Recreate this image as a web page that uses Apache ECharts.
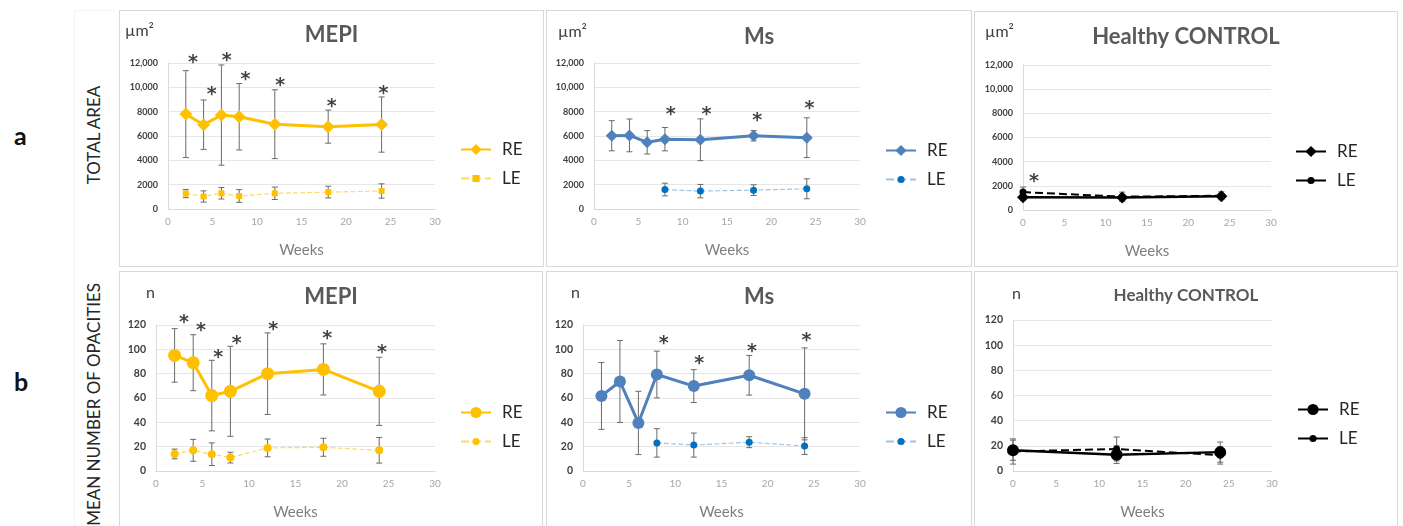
<!DOCTYPE html>
<html>
<head>
<meta charset="utf-8">
<script src="https://cdn.jsdelivr.net/npm/echarts@6.0.0/dist/echarts.min.js"></script>
<style>
  body { margin: 0; background: #fff; }
  #page { position: relative; width: 1403px; height: 526px; overflow: hidden; font-family: Lato, "Open Sans", sans-serif; }
  .panel { position: absolute; box-sizing: border-box; border: 1px solid #d9d9d9; }
  .outer { position: absolute; left: 74px; top: 10px; width: 40px; height: 520px; border-left: 1px solid #f4f4f4; border-top: 1px solid #f4f4f4; }
  .letter { position: absolute; left: 14px; font-size: 25px; font-weight: bold; color: #111; }
  .side { position: absolute; height: 20px; line-height: 20px; font-size: 17px; color: #262626; white-space: nowrap; transform: rotate(-90deg); transform-origin: 0 0; }
</style>
</head>
<body>
<div id="page">
  <div class="outer"></div>
  <div class="letter" style="top:120px">a</div>
  <div class="letter" style="top:366px">b</div>
  <div class="side" style="left:84px; top:235px; width:200px; text-align:center">TOTAL AREA</div>
  <div class="side" style="left:84px; top:583px; width:300px; text-align:right">MEAN NUMBER OF OPACITIES</div>

  <div class="panel" id="p1" style="left:119px; top:10px; width:425px; height:257px"></div>
  <div class="panel" id="p2" style="left:546px; top:10px; width:426px; height:257px"></div>
  <div class="panel" id="p3" style="left:974px; top:11px; width:424px; height:256px"></div>
  <div class="panel" id="p4" style="left:119px; top:271px; width:424px; height:265px"></div>
  <div class="panel" id="p5" style="left:546px; top:271px; width:426px; height:265px"></div>
  <div class="panel" id="p6" style="left:974px; top:271px; width:424px; height:265px"></div>
</div>
<script>
// weeks
const weeksRE = [2, 4, 6, 8, 12, 18, 24];
const weeksMsLE = [8, 12, 18, 24];
const weeksCtrl = [0, 12, 24];

// tick labels
const areaTicks = ['0', '2000', '4000', '6000', '8000', '10,000', '12,000'];
const countTicks = ['0', '20', '40', '60', '80', '100', '120'];

// a: total area (mean, sd)
const mepiAreaRE = [7800, 6930, 7720, 7580, 6970, 6770, 6940];
const mepiAreaRESd = [3570, 2030, 4120, 2730, 2830, 1360, 2270];
const mepiAreaLE = [1270, 1030, 1290, 1070, 1290, 1390, 1480];
const mepiAreaLESd = [340, 460, 470, 520, 510, 480, 590];
const msAreaRE = [6020, 6050, 5480, 5740, 5690, 6020, 5860];
const msAreaRESd = [1240, 1345, 960, 960, 1716, 425, 1634];
const msAreaLE = [1600, 1470, 1550, 1660];
const msAreaLESd = [520, 550, 440, 820];
const ctrlAreaRE = [1050, 1030, 1130];
const ctrlAreaRESd = [250, 200, 200];
const ctrlAreaLE = [1480, 1100, 1180];
const ctrlAreaLESd = [420, 380, 330];

// b: mean number of opacities (mean, sd)
const mepiCountRE = [95, 89, 62, 65.5, 80, 83.5, 65.5];
const mepiCountRESd = [22, 23, 29, 37, 33.5, 21, 28];
const mepiCountLE = [14, 17, 13.8, 11, 19, 19.5, 17];
const mepiCountLESd = [4, 9, 9.3, 4.4, 7.3, 7.4, 10.5];
const msCountRE = [61.7, 73.6, 39.5, 79.3, 69.8, 78.7, 63.4];
const msCountRESd = [27.5, 33.7, 26, 19.2, 13.5, 16.3, 37.8];
const msCountLE = [23.1, 21.3, 23.7, 20.5];
const msCountLESd = [11.7, 9.9, 4.5, 6.9];
const ctrlCountRE = [16.5, 13, 15];
const ctrlCountRESd = [8, 7, 8];
const ctrlCountLE = [15.5, 17.5, 12.5];
const ctrlCountLESd = [10, 9.5, 7];

// significance asterisks (x in weeks, y in axis units)
const mepiAreaStarX = [2.8, 4.9, 6.6, 8.7, 12.6, 18.4, 24.2];
const mepiAreaStarY = [12410, 9800, 12600, 10980, 10490, 8790, 9890];
const msAreaStarX = [8.66, 12.68, 18.4, 24.3];
const msAreaStarY = [8160, 8160, 7610, 8650];
const ctrlAreaStarX = [1.33];
const ctrlAreaStarY = [2760];
const mepiCountStarX = [3.0, 4.84, 6.7, 8.67, 12.6, 18.4, 24.3];
const mepiCountStarY = [125.5, 119.2, 97.3, 108.8, 120, 112.3, 101.4];
const msCountStarX = [8.75, 12.58, 18.3, 24.2];
const msCountStarY = [108.2, 91.8, 102.2, 111];

const FONT = 'Lato, "Open Sans", sans-serif';

// error bar drawn as vertical whisker with caps
function errorBar (params, api) {
  var x = api.value(0), m = api.value(1), s = api.value(2);
  var hi = api.coord([x, m + s]);
  var lo = api.coord([x, Math.max(0, m - s)]);
  var c = 3;
  var st = { stroke: '#6a6a6a', lineWidth: 1 };
  return {
    type: 'group',
    children: [
      { type: 'line', shape: { x1: hi[0], y1: hi[1], x2: lo[0], y2: lo[1] }, style: st },
      { type: 'line', shape: { x1: hi[0] - c, y1: hi[1], x2: hi[0] + c, y2: hi[1] }, style: st },
      { type: 'line', shape: { x1: lo[0] - c, y1: lo[1], x2: lo[0] + c, y2: lo[1] }, style: st }
    ]
  };
}

function buildPanel (id, cfg) {
  var myChart = echarts.init(document.getElementById(id));
  var series = [
    {
      type: 'custom', name: 'errRE', renderItem: errorBar, z: 1, silent: true,
      encode: { x: 0, y: 1 },
      data: cfg.reX.map((w, i) => [w, cfg.re[i], cfg.reSd[i]])
    },
    {
      type: 'custom', name: 'errLE', renderItem: errorBar, z: 1, silent: true,
      encode: { x: 0, y: 1 },
      data: cfg.leX.map((w, i) => [w, cfg.le[i], cfg.leSd[i]])
    },
    {
      name: 'LE', type: 'line', z: 2,
      symbol: cfg.leSymbol, symbolSize: cfg.leSize,
      itemStyle: { color: cfg.leColor },
      lineStyle: { color: cfg.leLine, width: cfg.leWidth, type: 'dashed' },
      data: cfg.leX.map((w, i) => [w, cfg.le[i]])
    },
    {
      name: 'RE', type: 'line', z: 3,
      symbol: cfg.reSymbol, symbolSize: cfg.reSize,
      itemStyle: { color: cfg.reColor },
      lineStyle: { color: cfg.reColor, width: cfg.reWidth },
      data: cfg.reX.map((w, i) => [w, cfg.re[i]])
    }
  ];
  if (cfg.starX) {
    series.push({
      name: 'stars', type: 'scatter', z: 5, silent: true, clip: false,
      symbolSize: 1,
      itemStyle: { color: 'rgba(0,0,0,0)' },
      label: {
        show: true, formatter: '*', position: 'inside', offset: [0, 5],
        fontSize: 19, fontWeight: 'bold', fontFamily: '"DejaVu Sans", sans-serif', color: '#111'
      },
      data: cfg.starX.map((x, i) => [x, cfg.starY[i]])
    });
  }
  var legendText = { fontSize: 17, color: '#262626', padding: [0, 0, 0, 6] };
  myChart.setOption({
    animation: false,
    textStyle: { fontFamily: FONT },
    title: [
      {
        text: cfg.title, left: 'center', top: cfg.titleTop, padding: 0,
        textStyle: { fontSize: cfg.titleSize, fontWeight: 'bold', color: '#595959' }
      },
      {
        text: cfg.unit, left: cfg.unitLeft, top: cfg.unitTop, padding: 0,
        textStyle: { fontSize: 16, fontWeight: 'normal', color: '#404040' }
      }
    ],
    legend: [
      {
        left: cfg.legendLeft, top: cfg.legendTop, padding: 0,
        itemWidth: 30, itemHeight: 14,
        data: ['RE'], textStyle: legendText
      },
      {
        left: cfg.legendLeft, top: cfg.legendTop + 29, padding: 0,
        itemWidth: 30, itemHeight: 9,
        lineStyle: cfg.leLegendSolid ? { type: 'solid', width: 2 } : {},
        data: ['LE'], textStyle: legendText
      }
    ],
    grid: cfg.grid,
    xAxis: {
      type: 'value', min: 0, max: 30, interval: 5,
      name: 'Weeks', nameLocation: 'middle', nameGap: 34,
      nameTextStyle: { fontSize: 15, color: '#7f7f7f' },
      axisLine: { lineStyle: { color: '#d9d9d9' } },
      axisTick: { show: false },
      splitLine: { show: false },
      axisLabel: { fontSize: 10, color: '#a6a6a6', margin: 8 }
    },
    yAxis: {
      type: 'value', min: 0, max: cfg.yMax, interval: cfg.yStep,
      axisLine: { show: true, lineStyle: { color: '#d9d9d9' } },
      axisTick: { show: false },
      splitLine: { lineStyle: { color: '#e6e6e6' } },
      axisLabel: {
        fontSize: cfg.yFont, fontWeight: 'bold', color: '#404040', margin: 10,
        formatter: function (v) { return cfg.yLabels[Math.round(v / cfg.yStep)]; }
      }
    },
    series: series
  });
}

var gold = '#FFC000', goldLight = '#FFD966';
var blue = '#4F81BD', blueDot = '#0070C0', blueLight = '#9DC3E6';

buildPanel('p1', {
  title: 'MEPI', titleSize: 22, titleTop: 13, unit: 'µm²', unitLeft: 5, unitTop: 12,
  grid: { left: 48, top: 52, width: 267, height: 146 },
  legendLeft: 340, legendTop: 130,
  yMax: 12000, yStep: 2000, yLabels: areaTicks, yFont: 9,
  reX: weeksRE, re: mepiAreaRE, reSd: mepiAreaRESd, reColor: gold, reWidth: 3, reSymbol: 'diamond', reSize: 13,
  leX: weeksRE, le: mepiAreaLE, leSd: mepiAreaLESd, leColor: gold, leLine: goldLight, leWidth: 1.2, leSymbol: 'rect', leSize: 6,
  starX: mepiAreaStarX, starY: mepiAreaStarY
});
buildPanel('p2', {
  title: 'Ms', titleSize: 22, titleTop: 15, unit: 'µm²', unitLeft: 11, unitTop: 13,
  grid: { left: 47, top: 52, width: 266, height: 146 },
  legendLeft: 338, legendTop: 131,
  yMax: 12000, yStep: 2000, yLabels: areaTicks, yFont: 9,
  reX: weeksRE, re: msAreaRE, reSd: msAreaRESd, reColor: blue, reWidth: 3, reSymbol: 'diamond', reSize: 12,
  leX: weeksMsLE, le: msAreaLE, leSd: msAreaLESd, leColor: blueDot, leLine: blueLight, leWidth: 1.2, leSymbol: 'circle', leSize: 7,
  starX: msAreaStarX, starY: msAreaStarY
});
buildPanel('p3', {
  title: 'Healthy CONTROL', titleSize: 22, titleTop: 14, unit: 'µm²', unitLeft: 10, unitTop: 12,
  grid: { left: 48, top: 53, width: 248, height: 145 },
  legendLeft: 320, legendTop: 131,
  yMax: 12000, yStep: 2000, yLabels: areaTicks, yFont: 9,
  reX: weeksCtrl, re: ctrlAreaRE, reSd: ctrlAreaRESd, reColor: '#000', reWidth: 2.5, reSymbol: 'diamond', reSize: 12,
  leX: weeksCtrl, le: ctrlAreaLE, leSd: ctrlAreaLESd, leColor: '#000', leLine: '#000', leWidth: 2, leSymbol: 'circle', leSize: 7,
  leLegendSolid: true,
  starX: ctrlAreaStarX, starY: ctrlAreaStarY
});
buildPanel('p4', {
  title: 'MEPI', titleSize: 22, titleTop: 14, unit: 'n', unitLeft: 26, unitTop: 13,
  grid: { left: 36, top: 53, width: 279, height: 146 },
  legendLeft: 340, legendTop: 132,
  yMax: 120, yStep: 20, yLabels: countTicks, yFont: 10.5,
  reX: weeksRE, re: mepiCountRE, reSd: mepiCountRESd, reColor: gold, reWidth: 3, reSymbol: 'circle', reSize: 13,
  leX: weeksRE, le: mepiCountLE, leSd: mepiCountLESd, leColor: gold, leLine: goldLight, leWidth: 1.2, leSymbol: 'circle', leSize: 8,
  starX: mepiCountStarX, starY: mepiCountStarY
});
buildPanel('p5', {
  title: 'Ms', titleSize: 22, titleTop: 14, unit: 'n', unitLeft: 24, unitTop: 13,
  grid: { left: 36, top: 53, width: 277, height: 146 },
  legendLeft: 338, legendTop: 132,
  yMax: 120, yStep: 20, yLabels: countTicks, yFont: 10.5,
  reX: weeksRE, re: msCountRE, reSd: msCountRESd, reColor: blue, reWidth: 3, reSymbol: 'circle', reSize: 12,
  leX: weeksMsLE, le: msCountLE, leSd: msCountLESd, leColor: blueDot, leLine: blueLight, leWidth: 1.2, leSymbol: 'circle', leSize: 7,
  starX: msCountStarX, starY: msCountStarY
});
buildPanel('p6', {
  title: 'Healthy CONTROL', titleSize: 17, titleTop: 15, unit: 'n', unitLeft: 37, unitTop: 14,
  grid: { left: 38, top: 48, width: 259, height: 151 },
  legendLeft: 322, legendTop: 129,
  yMax: 120, yStep: 20, yLabels: countTicks, yFont: 10.5,
  reX: weeksCtrl, re: ctrlCountRE, reSd: ctrlCountRESd, reColor: '#000', reWidth: 2.5, reSymbol: 'circle', reSize: 12,
  leX: weeksCtrl, le: ctrlCountLE, leSd: ctrlCountLESd, leColor: '#000', leLine: '#000', leWidth: 2, leSymbol: 'circle', leSize: 7,
  leLegendSolid: true
});
</script>
</body>
</html>
